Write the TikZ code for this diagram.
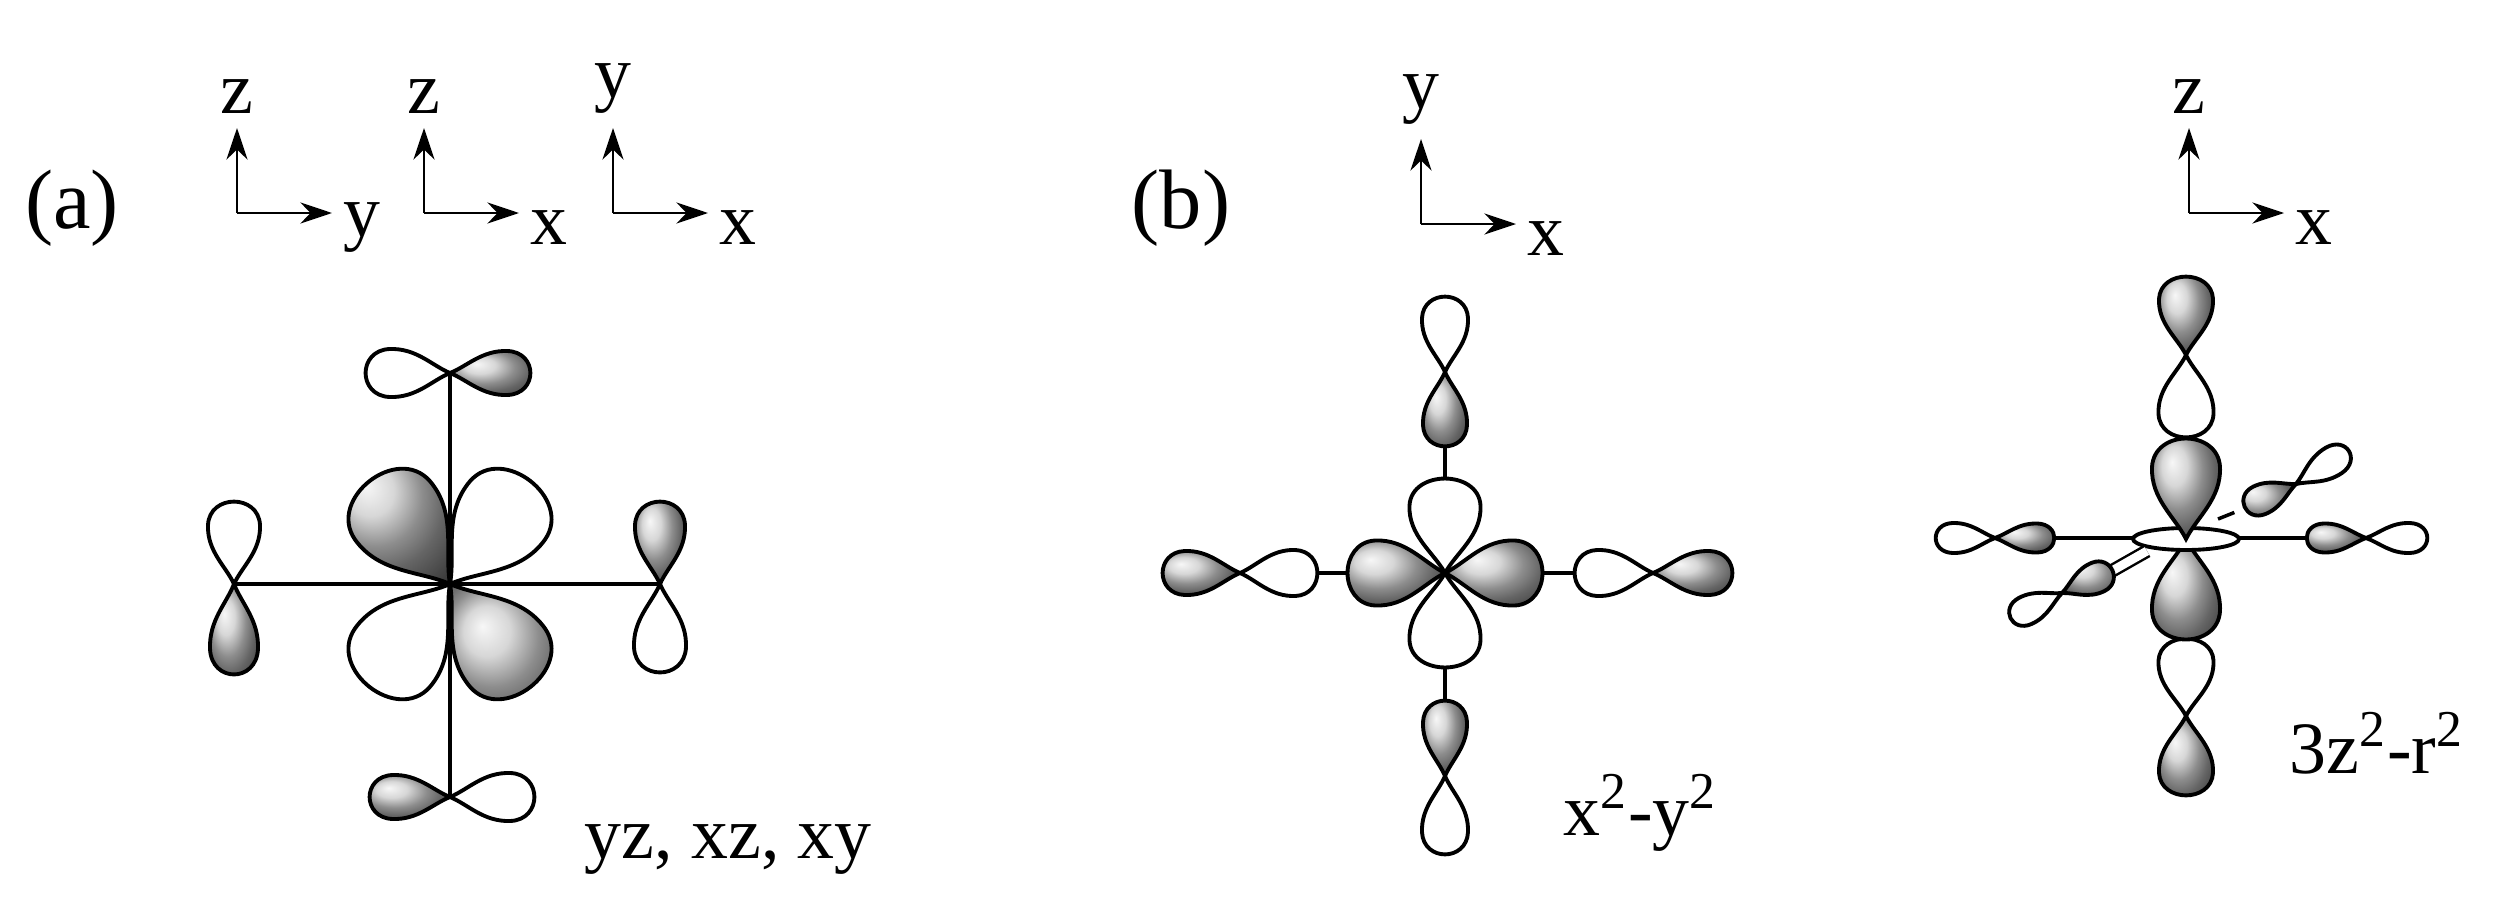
\documentclass[tikz,border=0pt]{standalone}
\usepackage{fontspec}
\setmainfont{Liberation Serif}
\usetikzlibrary{arrows.meta}
\tikzset{
  filledlobe/.style={draw, line width=1.1pt, shading=ball, ball color=gray!42},
  openlobe/.style={draw, fill=white, line width=1.1pt},
  axisarrow/.style={line width=0.8pt, -{Stealth[length=9pt,width=6pt]}},
  bond/.style={line width=1.0pt},
  lab/.style={font=\fontsize{21}{24}\selectfont, inner sep=0pt}
}
\newcommand\lobe[6]{%
  \path[#6, shift={(#1,#2)}, rotate=#3]
   (0,0) .. controls (0.22*#4,0.16*#5) and (0.4*#4,0.52*#5) .. (0.72*#4,0.5*#5)
   .. controls (1.1*#4,0.47*#5) and (1.1*#4,-0.47*#5) .. (0.72*#4,-0.5*#5)
   .. controls (0.4*#4,-0.52*#5) and (0.22*#4,-0.16*#5) .. cycle;}
\newcommand\axes[5]{% x y labelup labelright tag
  \coordinate (#5o) at (#1,#2);
  \coordinate (#5u) at (#1,#2-85);
  \coordinate (#5r) at (#1+95,#2);
  \draw[axisarrow] (#5o) -- (#5u);
  \draw[axisarrow] (#5o) -- (#5r);
  \node[lab, anchor=south] (#5lu) at ([yshift=4pt]#5u) {#3};
  \node[lab, anchor=west] (#5lr) at ([xshift=3pt,yshift=-4pt]#5r) {#4};}
\begin{document}
\begin{tikzpicture}[x=0.01cm,y=-0.01cm]
\useasboundingbox (0,0) rectangle (2496,909);
% labels
\node[lab, font=\fontsize{24}{28}\selectfont] (ta) at (72,208) {(a)};
\node[lab, font=\fontsize{24}{28}\selectfont] (tb) at (1181,208) {(b)};
\axes{237}{213}{z}{y}{A}
\axes{424}{213}{z}{x}{B}
\axes{613}{213}{y}{x}{C}
\axes{1421}{224}{y}{x}{D}
\axes{2189}{213}{z}{x}{E}
% ---------- panel (a)
\draw[bond] (450,373) -- (450,797);
\draw[bond] (234,584) -- (660,584);
\lobe{450}{373}{180}{84}{48}{openlobe}
\lobe{450}{373}{0}{80}{44}{filledlobe}
\lobe{450}{797}{180}{80}{44}{filledlobe}
\lobe{450}{797}{0}{84}{48}{openlobe}
\lobe{234}{584}{90}{82}{52}{openlobe}
\lobe{234}{584}{-90}{90}{48}{filledlobe}
\lobe{660}{584}{90}{82}{50}{filledlobe}
\lobe{660}{584}{-90}{88}{52}{openlobe}
\lobe{450}{584}{128}{130}{95}{filledlobe}
\lobe{450}{584}{-52}{130}{95}{filledlobe}
\lobe{450}{584}{52}{130}{95}{openlobe}
\lobe{450}{584}{-128}{130}{95}{openlobe}
\node[lab, anchor=base west] (la) at (584,858) {yz, xz, xy};
% ---------- panel (b) x2-y2
\draw[bond] (1445,372) -- (1445,776);
\draw[bond] (1240,573) -- (1653,573);
\lobe{1445}{372}{90}{75}{46}{openlobe}
\lobe{1445}{372}{-90}{74}{44}{filledlobe}
\lobe{1445}{776}{90}{75}{44}{filledlobe}
\lobe{1445}{776}{-90}{78}{46}{openlobe}
\lobe{1240}{573}{180}{77}{44}{filledlobe}
\lobe{1240}{573}{0}{77}{46}{openlobe}
\lobe{1653}{573}{180}{78}{46}{openlobe}
\lobe{1653}{573}{0}{79}{44}{filledlobe}
\lobe{1445}{573}{90}{94}{71}{openlobe}
\lobe{1445}{573}{-90}{94}{71}{openlobe}
\lobe{1445}{573}{180}{97}{65}{filledlobe}
\lobe{1445}{573}{0}{97}{65}{filledlobe}
\node[lab, anchor=base west] (lb) at (1563,835) {x\textsuperscript{2}-y\textsuperscript{2}};
% ---------- panel (b) 3z2-r2
\draw[bond] (2054,538) -- (2133,538);
\draw[bond] (2239,538) -- (2307,538);
\lobe{1995}{538}{0}{59}{29}{filledlobe}
\lobe{1995}{538}{180}{59}{30}{openlobe}
\lobe{2366}{538}{180}{59}{29}{filledlobe}
\lobe{2366}{538}{0}{61}{30}{openlobe}
% back diagonal
\draw[bond, dashed, dash pattern=on 5pt off 4pt] (2218,519) -- (2248,507);
\lobe{2296}{484}{32}{62}{30}{openlobe}
\lobe{2296}{484}{-156}{56}{30}{filledlobe}
% central
\lobe{2186}{355}{90}{78}{54}{filledlobe}
\lobe{2186}{355}{-90}{82}{55}{openlobe}
\lobe{2186}{716}{90}{77}{55}{openlobe}
\lobe{2186}{716}{-90}{79}{54}{filledlobe}
\lobe{2186}{539}{-90}{100}{68}{filledlobe}
\draw[openlobe] (2186,539) ellipse (53 and 11);
\lobe{2186}{539}{90}{100}{68}{filledlobe}
% front diagonal
\draw[bond, double, double distance=2.5pt, line width=0.7pt] (2110,572) -- (2147,551);
\lobe{2062}{593}{24}{55}{31}{filledlobe}
\lobe{2062}{593}{-154}{57}{29}{openlobe}
\node[lab, anchor=base west] (lc) at (2289,773) {3z\textsuperscript{2}-r\textsuperscript{2}};
\end{tikzpicture}
\end{document}
